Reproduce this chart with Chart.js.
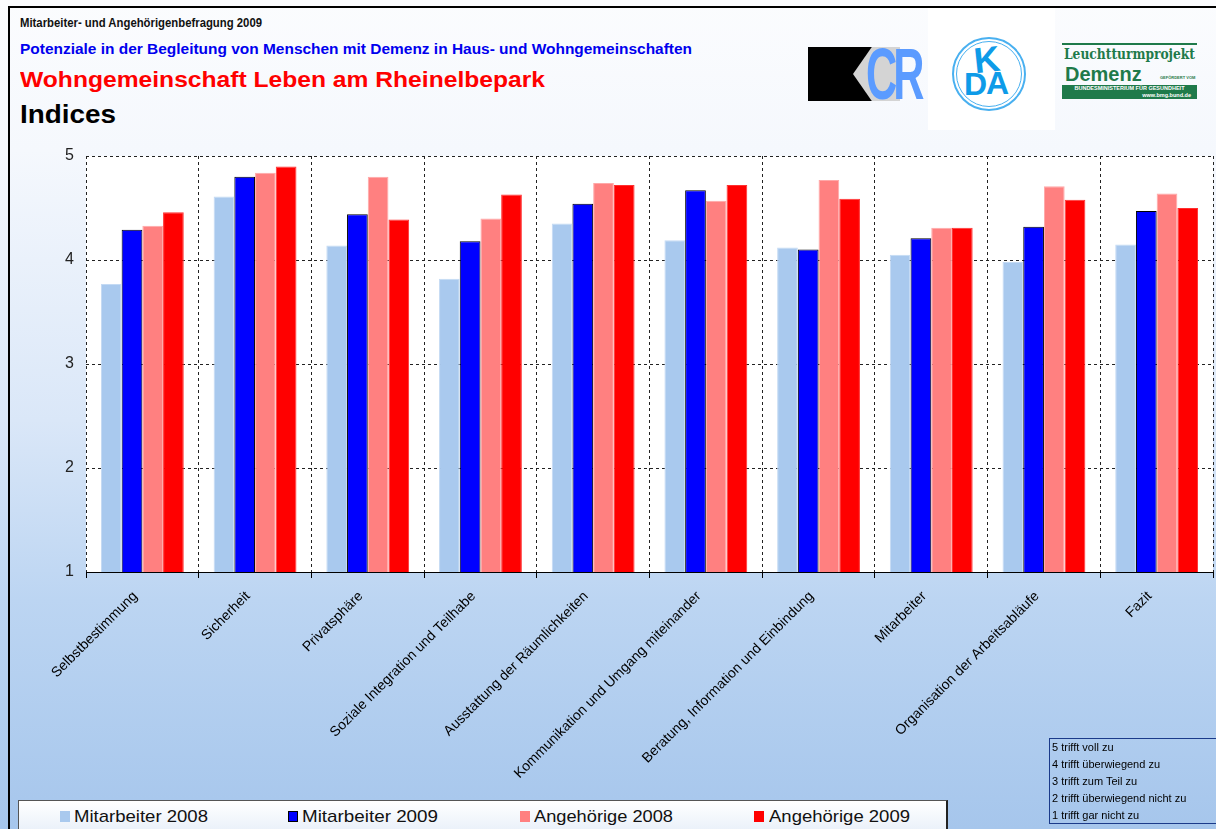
<!DOCTYPE html>
<html><head><meta charset="utf-8">
<script src="https://cdn.jsdelivr.net/npm/chart.js@4/dist/chart.umd.min.js"></script>
<style>
html,body{margin:0;padding:0}
body{width:1216px;height:829px;overflow:hidden;position:relative;font-family:"Liberation Sans",Arial,sans-serif;
background:linear-gradient(#fbfcfe 0px,#f5f8fd 150px,#dae7f8 420px,#bcd5f2 600px,#a6c6ec 829px);}
#frameT{position:absolute;left:8px;top:6px;width:1208px;height:2px;background:#000}
#frameL{position:absolute;left:8px;top:6px;width:2px;height:823px;background:#000}
.t{position:absolute;white-space:nowrap;left:20px;transform-origin:0 0;line-height:1}
#t1{top:16px;font:bold 12px "Liberation Sans",Arial;color:#111}
#t2{top:41px;font:bold 14px "Liberation Sans",Arial;color:#0000ee}
#t3{top:67px;font:bold 22px "Liberation Sans",Arial;color:#ff0000}
#t4{top:100px;font:bold 25px "Liberation Sans",Arial;color:#000}
#c{position:absolute;left:0;top:0}
#logobg{position:absolute;left:928px;top:8px;width:127px;height:122px;background:#fff}
#kcr1{position:absolute;left:808px;top:47px;width:64px;height:54px;background:#000}
#kcr2{position:absolute;left:853px;top:47px;width:47px;height:54px;background:#d4d4d4;clip-path:polygon(40% 0,100% 0,100% 100%,40% 100%,0 50%)}
#kcr3{position:absolute;left:866px;top:37px;font:bold 54px "Liberation Sans",Arial;color:#5b9bff;letter-spacing:-5px;line-height:54px;transform:scale(0.8,1.35);transform-origin:0 0}
#kda{position:absolute;left:952px;top:37px;width:74px;height:74px;border:2px solid #49b0f0;border-radius:50%;box-sizing:border-box}
#kda2{position:absolute;left:956px;top:41px;width:66px;height:66px;border:1px solid #49b0f0;border-radius:50%;box-sizing:border-box}
#kdaK{position:absolute;left:974px;top:42px;font:bold 36px "Liberation Sans",Arial;color:#0e9be8;line-height:36px;transform:rotate(-6deg)}
#kdaD{position:absolute;left:964px;top:68px;font:bold 32px "Liberation Sans",Arial;color:#0e9be8;line-height:32px}
#kdaA{position:absolute;left:986px;top:67px;font:bold 32px "Liberation Sans",Arial;color:#0e9be8;line-height:32px}
.lt{position:absolute;white-space:nowrap;color:#1f7a4a;transform-origin:0 0}
#lt0{left:1062px;top:43px;width:135px;height:2px;background:#1f7a4a}
#lt1{left:1064px;top:46px;font:bold 15px "DejaVu Serif",serif;line-height:16px}
#lt2{left:1065px;top:64px;font:bold 20px "Liberation Sans",Arial;line-height:20px}
#lt3{left:1160px;top:76px;font:bold 4px Arial;line-height:4px}
#lt4{left:1062px;top:85px;width:135px;height:14px;background:#1f7a4a;color:#fff;font:bold 5.5px Arial;line-height:6.5px;text-align:center}
#lt4 span{display:block;text-align:right;padding-right:6px}
#legend{position:absolute;left:18px;top:800px;width:927px;height:32px;border:1px solid #555;border-right:2px solid #222;
background:linear-gradient(#ffffff,#e8eff9);color:#111}
.sw{position:absolute;top:10px;width:10px;height:11px;box-sizing:border-box}
.lt-x{position:absolute;top:7px;white-space:nowrap;font:17px "Liberation Sans",Arial;line-height:18px;transform-origin:0 0}
#note{position:absolute;left:1049px;top:738px;width:167px;height:86px;border-left:1px solid #1a3a8a;border-top:1px solid #1a3a8a;border-bottom:1px solid #1a3a8a;
font:11px "Liberation Sans",Arial;color:#000;line-height:17px;padding-left:2px;box-sizing:border-box}
</style></head><body>
<div id="frameT"></div><div id="frameL"></div>
<div id="logobg"></div>
<div class="t" id="t1" data-w="242">Mitarbeiter- und Angehörigenbefragung 2009</div>
<div class="t" id="t2" data-w="672">Potenziale in der Begleitung von Menschen mit Demenz in Haus- und Wohngemeinschaften</div>
<div class="t" id="t3" data-w="525">Wohngemeinschaft Leben am Rheinelbepark</div>
<div class="t" id="t4" data-w="96">Indices</div>
<div id="kcr1"></div><div id="kcr2"></div><div id="kcr3">CR</div>
<div id="kda"></div><div id="kda2"></div><div id="kdaK">K</div><div id="kdaD">D</div><div id="kdaA">A</div>
<div class="lt" id="lt0"></div>
<div class="lt" id="lt1">Leuchtturmprojekt</div>
<div class="lt" id="lt2">Demenz</div>
<div class="lt" id="lt3">GEFÖRDERT VOM</div>
<div class="lt" id="lt4">BUNDESMINISTERIUM FÜR GESUNDHEIT<span>www.bmg.bund.de</span></div>
<canvas id="c" width="1216" height="829"></canvas>
<div id="legend"></div>
<div id="note">5 trifft voll zu<br>4 trifft überwiegend zu<br>3 trifft zum Teil zu<br>2 trifft überwiegend nicht zu<br>1 trifft gar nicht zu</div>
<script>
const categories = ["Selbstbestimmung","Sicherheit","Privatsphäre","Soziale Integration und Teilhabe","Ausstattung der Räumlichkeiten","Kommunikation und Umgang miteinander","Beratung, Information und Einbindung","Mitarbeiter","Organisation der Arbeitsabläufe","Fazit"];
const seriesNames = ["Mitarbeiter 2008","Mitarbeiter 2009","Angehörige 2008","Angehörige 2009"];
const mitarbeiter2008 = [3.77,4.61,4.14,3.82,4.35,4.19,4.12,4.05,3.98,4.15];
const mitarbeiter2009 = [4.29,4.80,4.44,4.18,4.54,4.67,4.10,4.21,4.32,4.47];
const angehoerige2008 = [4.33,4.84,4.80,4.40,4.74,4.57,4.77,4.31,4.71,4.64];
const angehoerige2009 = [4.46,4.90,4.39,4.63,4.72,4.72,4.59,4.31,4.58,4.50];
const yTicks = [1,2,3,4,5];

const fills = ["#a9c9ee","#0000ff","#ff8080","#ff0000"];
const borders = ["#c4daf4","#000000","#ffa8a8","#ff3030"];
const allSeries = [mitarbeiter2008,mitarbeiter2009,angehoerige2008,angehoerige2009];

function fitWidth(el,w){const r=el.getBoundingClientRect().width;el.style.transform='scaleX('+(w/r)+')';}
document.querySelectorAll('.t').forEach(el=>fitWidth(el,+el.dataset.w));
fitWidth(document.getElementById('lt1'),131);

const leg = document.getElementById('legend');
const swX = [41,269,501,735];
const txX = [55,283,515,750];
const txW = [134,136,139,141];
seriesNames.forEach((n,i)=>{
  const s=document.createElement('div');s.className='sw';s.style.left=swX[i]+'px';
  s.style.background=fills[i];s.style.border='1px solid '+(i==1?'#000':fills[i]);leg.appendChild(s);
  const t=document.createElement('div');t.className='lt-x';t.style.left=txX[i]+'px';t.textContent=n;leg.appendChild(t);
  fitWidth(t,txW[i]);
});

const plotBg = {id:'plotBg',beforeDraw(ch){const a=ch.chartArea,c=ch.ctx;c.save();c.fillStyle='#ffffff';c.fillRect(a.left,a.top,a.right-a.left,a.bottom-a.top);c.restore();}};

new Chart(document.getElementById('c'),{
  type:'bar',
  data:{labels:categories,datasets:allSeries.map((d,i)=>({label:seriesNames[i],data:d,backgroundColor:fills[i],borderColor:borders[i],borderWidth:1,categoryPercentage:0.735,barPercentage:1}))},
  options:{
    responsive:false,animation:false,
    layout:{padding:{left:0,right:3,top:156,bottom:0}},
    plugins:{legend:{display:false},title:{display:false},tooltip:{enabled:false}},
    scales:{
      x:{
        afterFit(s){s.height=257;},
        grid:{offset:true,color:'#222',lineWidth:1,drawTicks:true,tickLength:6,tickColor:'#000',tickBorderDash:[]},
        border:{display:true,color:'#000',width:1,dash:[3,3]},
        ticks:{maxRotation:45,minRotation:45,autoSkip:false,color:'#000',font:{family:'"Liberation Sans",Arial',size:14},padding:10,labelOffset:-7}
      },
      y:{
        min:1,max:5,
        afterFit(s){s.width=86;},
        afterBuildTicks(s){s.ticks=yTicks.map(v=>({value:v}));},
        grid:{color:'#222',lineWidth:1,drawTicks:false},
        border:{display:false,dash:[3,3]},
        ticks:{color:'#222',font:{family:'"Liberation Sans",Arial',size:16},padding:12}
      }
    }
  },
  plugins:[plotBg]
});
</script>
</body></html>
